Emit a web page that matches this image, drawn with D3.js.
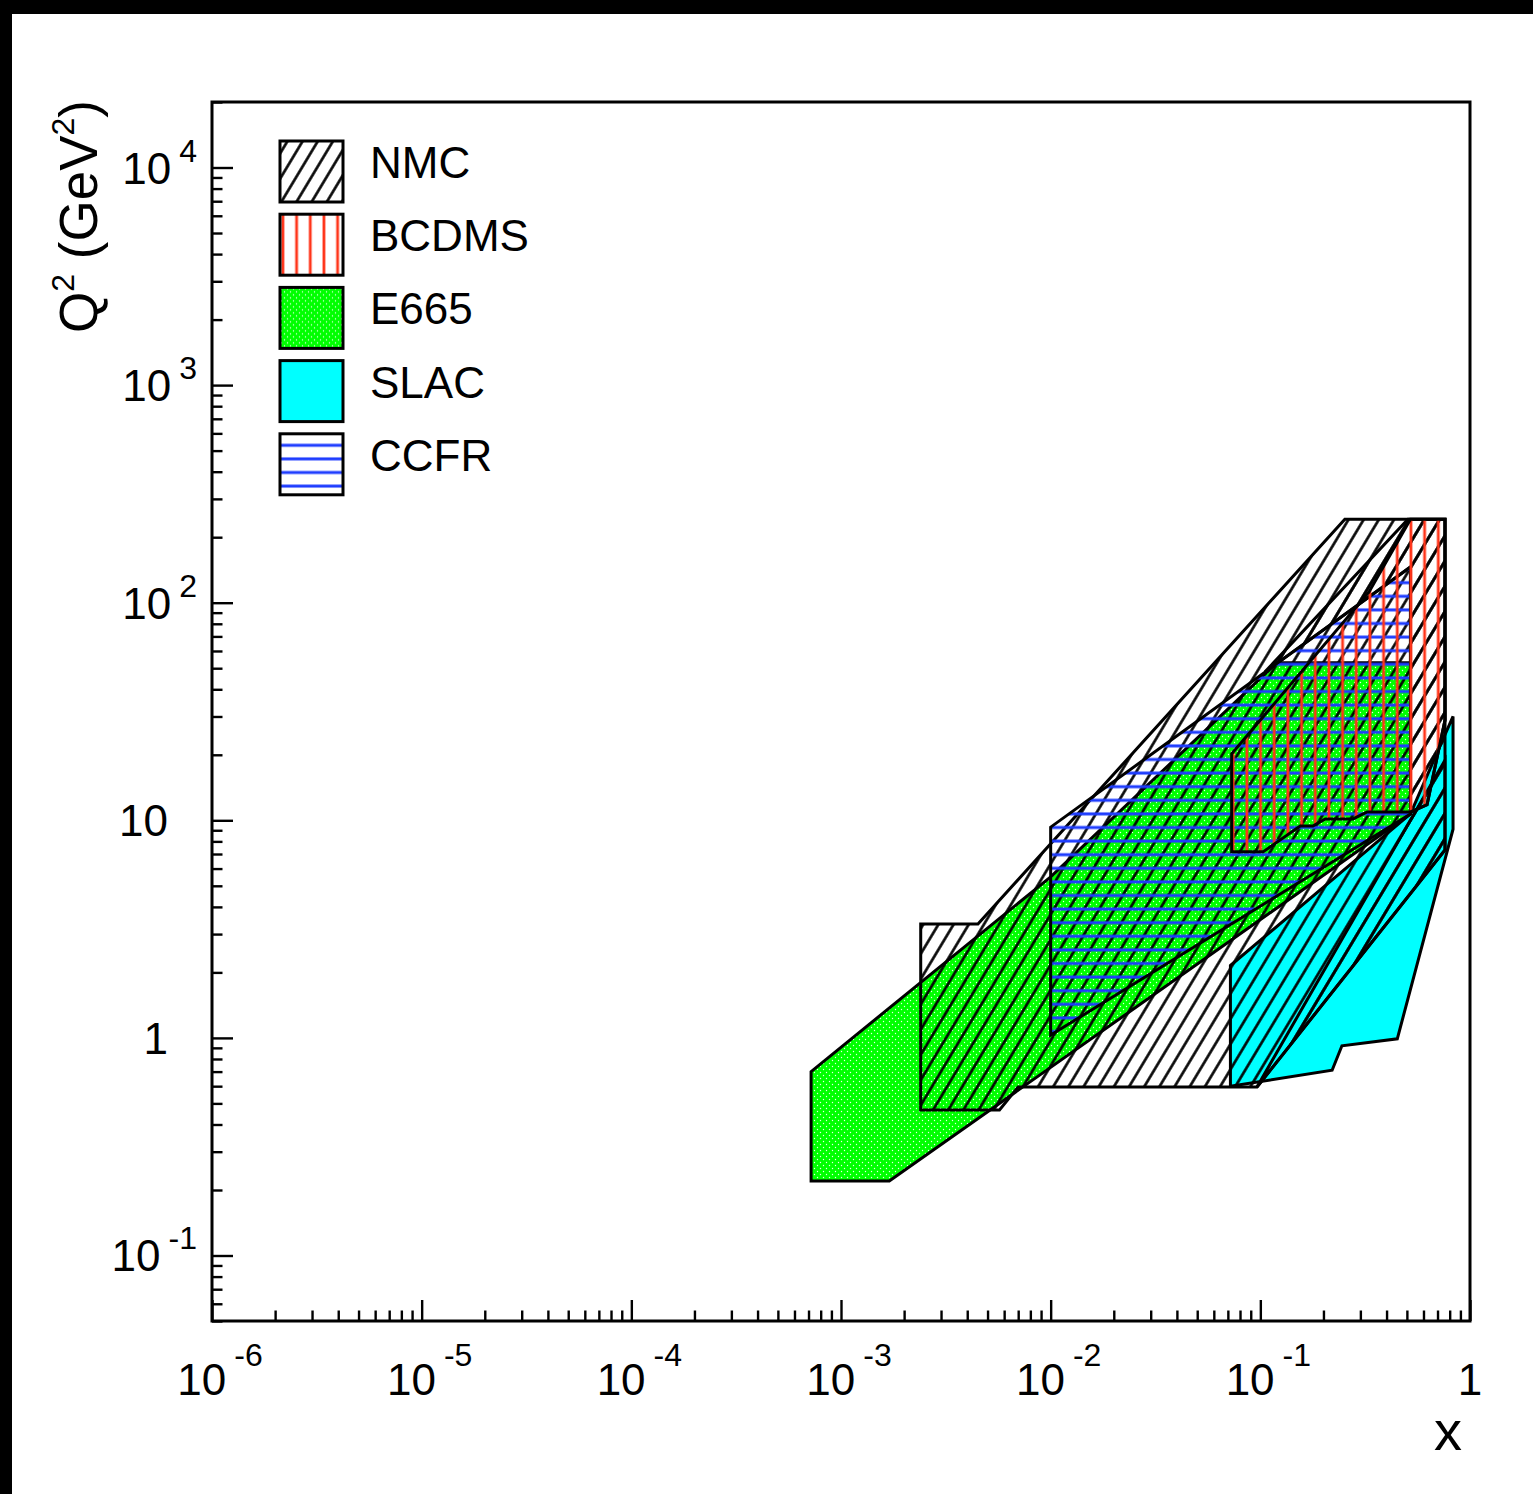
<!DOCTYPE html>
<html>
<head>
<meta charset="utf-8">
<script src="https://cdn.jsdelivr.net/npm/d3@7"></script>
<style>
body { margin: 0; background: #000; }
svg { display: block; }
text { font-family: "Liberation Sans", Arial, Helvetica, sans-serif; fill: #000; }
</style>
</head>
<body>
<div id="chart"></div>
<script>
// kinematic coverage, each polygon is a list of [x, Q2 (GeV^2)] corners
var slac = [[0.072, 2.15], [0.072, 0.60], [0.22, 0.71], [0.245, 0.92], [0.45, 0.99],
            [0.83, 9.1], [0.83, 30], [0.72, 22], [0.52, 10.7]];
var e665 = [[7.2e-4, 0.70], [7.2e-4, 0.22], [1.7e-3, 0.22], [0.52, 10.7], [0.52, 53],
            [0.12, 53], [0.01, 5.5]];
var nmcA = [[2.4e-3, 3.34], [4.5e-3, 3.34], [0.253, 242], [0.76, 242], [0.76, 7.3],
            [0.0964, 0.595], [7.0e-3, 0.595], [5.7e-3, 0.466], [2.4e-3, 0.466]];
var nmcB = [[0.105, 48], [0.506, 242], [0.76, 242], [0.76, 28.9], [0.624, 11.8],
            [0.52, 10.9], [0.52, 146]];
var nmcC = [[0.0964, 0.595], [0.76, 18.9], [0.76, 7.3]];
var ccfr = [[0.01, 9.3], [0.01, 1.03], [0.52, 10.7], [0.52, 146]];
var bcdms = [[0.073, 20.2], [0.073, 7.16], [0.103, 7.16], [0.155, 9.42], [0.178, 9.42],
             [0.204, 10.15], [0.277, 10.15], [0.323, 10.93], [0.52, 10.93], [0.624, 11.8],
             [0.76, 28.9], [0.76, 242], [0.52, 242], [0.33, 112]];

var legendNames = ["NMC", "BCDMS", "E665", "SLAC", "CCFR"];
var legendFills = ["url(#nmcHatch)", "url(#bcdmsLines)", "url(#e665Dots)", "#00ffff", "url(#ccfrLines)"];

var xMajor = [1e-6, 1e-5, 1e-4, 1e-3, 1e-2, 1e-1, 1];
var xExp = ["-6", "-5", "-4", "-3", "-2", "-1", ""];
var yMajor = [0.1, 1, 10, 100, 1000, 10000];
var yBase = ["10", "1", "10", "10", "10", "10"];
var yExp = ["-1", "", "", "2", "3", "4"];

(function() {
var W = 1533, H = 1494;
var frame = {left: 212, right: 1470, top: 102, bottom: 1321};

var svg = d3.select("#chart").append("svg")
    .attr("width", W)
    .attr("height", H);

// black screen border, white canvas
svg.append("rect").attr("width", W).attr("height", H).attr("fill", "#000");
svg.append("rect").attr("x", 12).attr("y", 14).attr("width", W - 12).attr("height", H - 14).attr("fill", "#fff");

var defs = svg.append("defs");

// NMC: black "///" hatch
var hatch = defs.append("pattern")
    .attr("id", "nmcHatch")
    .attr("patternUnits", "userSpaceOnUse")
    .attr("width", 13).attr("height", 13)
    .attr("patternTransform", "rotate(31)");
hatch.append("line").attr("x1", 6.5).attr("y1", -1).attr("x2", 6.5).attr("y2", 14)
    .attr("stroke", "#000").attr("stroke-width", 2.6);

// BCDMS: red vertical lines
var rw = 13.67;
var red = defs.append("pattern")
    .attr("id", "bcdmsLines")
    .attr("patternUnits", "userSpaceOnUse")
    .attr("x", 290 - rw / 2).attr("y", 0)
    .attr("width", rw).attr("height", 20);
red.append("line").attr("x1", rw / 2).attr("y1", -1).attr("x2", rw / 2).attr("y2", 21)
    .attr("stroke", "#ff3419").attr("stroke-width", 2.8);

// CCFR: blue horizontal lines
var bh = 13.6;
var blue = defs.append("pattern")
    .attr("id", "ccfrLines")
    .attr("patternUnits", "userSpaceOnUse")
    .attr("x", 0).attr("y", 446.7 - bh / 2)
    .attr("width", 20).attr("height", bh);
blue.append("line").attr("x1", -1).attr("y1", bh / 2).attr("x2", 21).attr("y2", bh / 2)
    .attr("stroke", "#1e3cff").attr("stroke-width", 3);

// E665: green with white dots
var dots = defs.append("pattern")
    .attr("id", "e665Dots")
    .attr("patternUnits", "userSpaceOnUse")
    .attr("width", 6).attr("height", 6);
dots.append("rect").attr("width", 6).attr("height", 6).attr("fill", "#00ff00");
dots.append("circle").attr("cx", 1.5).attr("cy", 1.5).attr("r", 0.7).attr("fill", "#e8ffe8");
dots.append("circle").attr("cx", 4.5).attr("cy", 4.5).attr("r", 0.7).attr("fill", "#e8ffe8");

var x = d3.scaleLog().domain([1e-6, 1]).range([frame.left, frame.right]);
var y = d3.scaleLog().domain([0.05, 2e4]).range([frame.bottom, frame.top]);

var poly = d3.line()
    .x(function(d) { return x(d[0]); })
    .y(function(d) { return y(d[1]); });

function drawRegion(data, fill) {
  svg.append("path")
    .datum(data)
    .attr("d", function(d) { return poly(d) + "Z"; })
    .attr("fill", fill)
    .attr("stroke", "#000")
    .attr("stroke-width", 3)
    .attr("stroke-linejoin", "miter");
}

drawRegion(slac, "#00ffff");
drawRegion(e665, "url(#e665Dots)");
drawRegion(nmcA, "url(#nmcHatch)");
drawRegion(nmcB, "url(#nmcHatch)");
drawRegion(nmcC, "url(#nmcHatch)");
drawRegion(ccfr, "url(#ccfrLines)");
drawRegion(bcdms, "url(#bcdmsLines)");

// axes: ticks point into the frame
var xMinor = x.ticks().filter(function(v) { return xMajor.indexOf(v) < 0; });
var yMinor = y.ticks().filter(function(v) { return yMajor.indexOf(v) < 0; });

function styleAxis(g) {
  g.select(".domain").remove();
  g.selectAll("line").attr("stroke", "#000").attr("stroke-width", 2.4);
  g.selectAll("text").remove();
}

svg.append("g").attr("transform", "translate(0," + frame.bottom + ")")
  .call(d3.axisBottom(x).tickValues(xMajor).tickSize(-21).tickSizeOuter(0))
  .call(styleAxis);
svg.append("g").attr("transform", "translate(0," + frame.bottom + ")")
  .call(d3.axisBottom(x).tickValues(xMinor).tickSize(-10.5).tickSizeOuter(0))
  .call(styleAxis);
svg.append("g").attr("transform", "translate(" + frame.left + ",0)")
  .call(d3.axisLeft(y).tickValues(yMajor).tickSize(-21).tickSizeOuter(0))
  .call(styleAxis);
svg.append("g").attr("transform", "translate(" + frame.left + ",0)")
  .call(d3.axisLeft(y).tickValues(yMinor).tickSize(-10.5).tickSizeOuter(0))
  .call(styleAxis);

// frame
svg.append("rect")
  .attr("x", frame.left).attr("y", frame.top)
  .attr("width", frame.right - frame.left).attr("height", frame.bottom - frame.top)
  .attr("fill", "none").attr("stroke", "#000").attr("stroke-width", 3);

// x tick labels
xMajor.forEach(function(v, i) {
  var t = svg.append("text")
    .attr("x", x(v) + (xExp[i] ? 8 : 0))
    .attr("y", 1395)
    .attr("text-anchor", "middle")
    .style("font-size", "44px");
  t.append("tspan").text(xExp[i] ? "10" : "1");
  if (xExp[i]) {
    t.append("tspan").attr("dx", 8).attr("dy", -29).style("font-size", "32px").text(xExp[i]);
  }
});

// y tick labels
yMajor.forEach(function(v, i) {
  var t = svg.append("text")
    .attr("x", yExp[i] ? 197 : 168)
    .attr("y", y(v) + 16)
    .attr("text-anchor", "end")
    .style("font-size", "44px");
  t.append("tspan").text(yBase[i]);
  if (yExp[i]) {
    t.append("tspan").attr("dx", 8).attr("dy", -22).style("font-size", "32px").text(yExp[i]);
  }
});

// axis titles
svg.append("text")
  .attr("x", 1462).attr("y", 1450)
  .attr("text-anchor", "end")
  .style("font-size", "56px")
  .text("x");

var yt = svg.append("text")
  .attr("transform", "translate(97,100) rotate(-90)")
  .attr("text-anchor", "end")
  .style("font-size", "53px");
yt.append("tspan").text("Q");
yt.append("tspan").attr("dy", -23).style("font-size", "32px").text("2");
yt.append("tspan").attr("dy", 23).text(" (GeV");
yt.append("tspan").attr("dy", -23).style("font-size", "32px").text("2");
yt.append("tspan").attr("dy", 23).text(")");

// legend
var leg = svg.selectAll(".legendEntry")
  .data(legendNames)
  .enter().append("g")
  .attr("class", "legendEntry")
  .attr("transform", function(d, i) { return "translate(280," + (141 + i * 73.2) + ")"; });

leg.append("rect")
  .attr("width", 63).attr("height", 61)
  .attr("fill", function(d, i) { return legendFills[i]; })
  .attr("stroke", "#000").attr("stroke-width", 3);

leg.append("text")
  .attr("x", 90).attr("y", 37)
  .style("font-size", "44px")
  .text(function(d) { return d; });
})();
</script>
</body>
</html>
